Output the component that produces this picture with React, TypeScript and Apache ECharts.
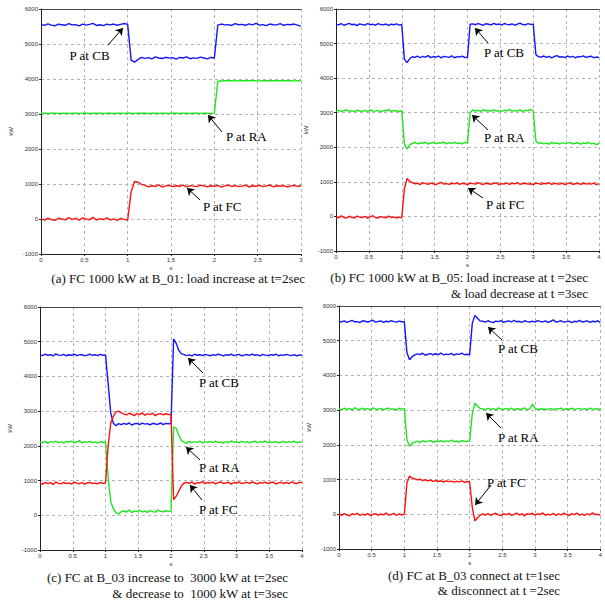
import React, { useEffect, useRef } from "react";
import * as echarts from "echarts";

// sampling step of every series (seconds)
const DT = 0.04;

// ---------- (a) FC 1000 kW at B_01 ----------
const A_CB = [5560,5530,5575,5540,5520,5565,5550,5535,5580,5545,5555,5520,5570,5540,5560,5590,5530,5550,5525,5565,5545,5570,5535,5560,5585,
  5560,4540,4480,4560,
  4620,4590,4610,4575,4630,4600,4585,4620,4595,4610,4570,4615,4600,4630,4580,4605,4590,4625,4600,4575,4615,
  4600,
  5540,5570,5545,5555,5530,5580,5550,5560,5535,5575,5545,5590,5540,5555,5525,5570,5550,5545,5580,5535,5560,5550,5570,5540,5510];
const A_RA = [3020,3022,3018,3020,3021,3019,3020,3023,3018,3020,3021,3019,3020,3022,3018,3020,3021,3020,3019,3022,
  3020,3018,3021,3020,3019,3023,3020,3018,3021,3020,3022,3019,3020,3021,3018,3020,3022,3019,3020,3021,
  3018,3020,3022,3019,3021,3020,3018,3022,3020,3019,3025,
  3930,3950,3948,3952,3950,3946,3953,3950,3949,3951,3955,3950,3947,3952,3950,3948,3951,3954,3950,3949,3952,3950,3947,3951,3950];
const A_FC = [10,-30,25,-15,-40,20,5,-25,40,-10,15,-35,30,-5,-20,45,-30,10,-15,35,-25,5,-40,20,-10,-30,
  780,1070,1050,990,
  960,920,950,930,975,910,945,960,925,950,935,970,915,955,940,925,965,945,920,950,935,960,910,945,970,930,955,925,940,965,915,950,935,960,925,945,970,920,950,935,955,915,945,960,930,950];

// ---------- (b) FC 1000 kW at B_05 ----------
const B_CB = [5560,5540,5575,5530,5555,5585,5545,5560,5520,5570,5550,5535,5580,5545,5560,5530,5575,5550,5540,5565,5525,5560,5545,5570,5535,5550,
  4550,4450,4560,
  4620,4600,4640,4590,4630,4610,4650,4595,4625,4605,4640,4585,4630,4615,4600,4645,4590,4620,4610,4635,4595,4600,
  5560,
  5570,5545,5580,5555,5530,5575,5560,5540,5585,5550,5565,5535,5580,5555,5545,5570,5530,5560,5590,5550,5540,5575,5555,5560,
  4680,4620,
  4610,4640,4600,4630,4585,4625,4650,4605,4620,4595,4640,4610,4630,4590,4625,4615,4645,4600,4620,4635,4590,4610,4600];
const B_RA = [3040,3070,3030,3060,3085,3045,3055,3030,3075,3050,3040,3065,3035,3080,3050,3045,3070,3025,3060,3055,3090,3040,3065,3050,3035,3060,
  2100,1950,2070,
  2110,2140,2100,2130,2115,2150,2095,2125,2140,2105,2130,2120,2150,2100,2135,2115,2145,2110,2130,2100,2140,2120,
  3000,
  3080,3050,3070,3040,3090,3055,3065,3045,3080,3050,3060,3035,3075,3055,3100,3045,3065,3050,3085,3040,3070,3060,3095,3050,
  2180,2120,
  2130,2100,2120,2090,2140,2110,2125,2095,2135,2105,2120,2140,2100,2115,2130,2090,2125,2110,2140,2100,2120,2080,2110];
const B_FC = [-10,-40,15,-30,-50,5,-25,-45,10,-20,-35,0,-50,-15,20,-30,-45,-5,-25,-40,10,-30,-15,-50,-20,-40,
  800,1100,1020,
  980,940,960,920,975,950,930,965,945,920,955,985,935,950,925,960,940,970,930,955,
  945,920,965,950,935,975,940,925,960,945,930,955,970,920,950,940,965,930,955,945,
  975,925,950,960,935,945,920,965,950,930,960,940,975,925,955,945,935,960,920,950,
  970,930,945,955,925,960,940,950,935,965,920,945];

// ---------- (c) FC at B_03 increase / decrease ----------
const C_CB = [4620,4600,4640,4610,4630,4590,4650,4615,4605,4635,4595,4625,4610,4645,4600,4620,4630,4590,4615,4640,4605,4625,4600,4635,4610,4620,
  3800,2950,2650,2580,
  2640,2610,2650,2620,2660,2600,2635,2645,2615,2655,2625,2640,2605,2650,2630,2620,2660,2610,2645,2635,2640,
  5080,4950,4750,4650,
  4630,4600,4620,4590,4640,4610,4625,4600,4635,4615,4595,4630,4605,4640,4620,4590,4625,4610,4645,4600,
  4620,4635,4595,4615,4630,4605,4640,4610,4620,4590,4635,4615,4600,4630,4610,4645,4595,4620,4605,4635,
  4615,4600,4630,4590,4620,4610];
const C_RA = [2110,2090,2130,2080,2120,2100,2140,2095,2115,2085,2125,2105,2135,2090,2110,2150,2085,2120,2100,2130,2095,2115,2080,2125,2105,2110,
  1100,400,180,80,40,
  100,130,90,150,80,120,110,140,95,125,85,135,105,90,150,115,100,130,110,120,
  2550,2500,2300,2150,
  2110,2080,2130,2095,2120,2100,2140,2085,2115,2105,2125,2090,2135,2100,2110,2080,2125,2095,2140,2105,
  2115,2090,2130,2100,2120,2085,2110,2135,2095,2120,2105,2140,2090,2115,2100,2125,2085,2110,2130,2095,
  2120,2100,2135,2090,2115,2105];
const C_FC = [930,900,950,910,940,890,960,920,905,945,915,935,895,955,925,910,940,900,930,950,915,925,905,945,920,930,
  2000,2650,2850,2980,
  3000,2950,2920,2890,2940,2910,2870,2930,2900,2950,2880,2920,2905,2940,2870,2915,2930,2890,2925,2900,2910,
  450,550,700,850,930,
  950,920,960,900,940,930,970,910,945,925,955,905,940,960,915,935,950,900,945,925,
  960,910,935,950,920,965,930,905,945,925,955,915,940,960,900,935,950,920,945,910,
  960,930,915,950,935];

// ---------- (d) FC at B_03 connect / disconnect ----------
const D_CB = [5560,5540,5570,5530,5555,5585,5545,5550,5520,5575,5560,5540,5565,5590,5535,5555,5570,5530,5560,5545,5580,5550,5535,5565,5545,5550,
  4650,4450,4540,
  4590,4620,4600,4640,4580,4610,4630,4595,4625,4600,4645,4590,4615,4600,4635,4585,4620,4605,4640,4595,4610,4600,
  5500,5730,5650,5570,
  5560,5535,5575,5545,5520,5565,5550,5580,5530,5555,5570,5540,5590,5545,5560,5525,5575,5550,5540,5565,
  5535,5580,5555,5545,5570,5530,5560,5600,5540,5555,5575,5535,5550,5565,5520,5560,5545,5585,5540,5555,
  5570,5530,5560,5545,5575,5520];
const D_RA = [3040,3010,3060,3020,3050,3000,3070,3030,3015,3055,3025,3045,3005,3065,3035,3020,3050,3010,3040,3060,3025,3035,3000,3055,3030,3040,
  2150,1960,2050,
  2080,2110,2060,2120,2090,2100,2130,2070,2105,2095,2125,2085,2115,2100,2140,2090,2110,2080,2120,2105,2095,2110,
  2900,3200,3120,3050,
  3040,3010,3055,3020,3045,3000,3065,3030,3015,3050,3025,3060,3005,3040,3035,3020,3070,3010,3045,3170,
  3055,3015,3040,3025,3030,3020,3050,3010,3045,3035,3060,3005,3040,3025,3055,3015,3035,3050,3020,3045,
  3010,3060,3030,3025,3050,3000];
const D_FC = [10,-30,20,-20,-45,15,-10,30,-35,5,-25,25,-40,0,20,-30,10,-15,35,-20,-5,25,-35,10,-20,0,
  900,1100,1040,
  1020,990,1010,970,995,960,985,950,975,945,965,930,960,940,955,925,950,935,960,920,945,930,
  200,-190,-100,-30,
  10,-25,20,-35,5,30,-15,-40,15,-10,25,-30,0,35,-20,10,-45,20,-5,30,
  -25,15,-10,40,-30,5,-20,25,-35,10,-15,30,-5,-40,20,-10,35,-25,5,-30,
  15,-20,45,-10,0,-25];

// annotation anchors in data units: text (left, middle) and arrow tail -> head
const A_NOTES = [
  { label: "P at CB", tx: 0.33, ty: 4660, x1: 0.773, y1: 4971, x2: 0.946, y2: 5457 },
  { label: "P at RA", tx: 2.135, ty: 2343, x1: 2.088, y1: 2486, x2: 1.927, y2: 2971 },
  { label: "P at FC", tx: 1.869, ty: 371, x1: 1.835, y1: 543, x2: 1.685, y2: 886 },
];
const B_NOTES = [
  { label: "P at CB", tx: 2.251, ty: 4756, x1: 2.312, y1: 5017, x2: 2.114, y2: 5450 },
  { label: "P at RA", tx: 2.251, ty: 2297, x1: 2.312, y1: 2500, x2: 2.068, y2: 2934 },
  { label: "P at FC", tx: 2.281, ty: 359, x1: 2.236, y1: 533, x2: 2.008, y2: 822 },
];
const C_NOTES = [
  { label: "P at CB", tx: 2.427, ty: 3839, x1: 2.489, y1: 4099, x2: 2.26, y2: 4531 },
  { label: "P at RA", tx: 2.427, ty: 1390, x1: 2.443, y1: 1592, x2: 2.229, y2: 1967 },
  { label: "P at FC", tx: 2.427, ty: 180, x1: 2.473, y1: 440, x2: 2.29, y2: 872 },
];
const D_NOTES = [
  { label: "P at CB", tx: 2.433, ty: 4790, x1: 2.494, y1: 5020, x2: 2.281, y2: 5395 },
  { label: "P at RA", tx: 2.433, ty: 2226, x1: 2.479, y1: 2485, x2: 2.251, y2: 2917 },
  { label: "P at FC", tx: 2.266, ty: 929, x1: 2.327, y1: 843, x2: 2.084, y2: 266 },
];

const CAPTIONS = [
  { lines: ["(a) FC 1000 kW at B_01: load increase at t=2sec"], x: 305, y: [278] },
  { lines: ["(b) FC 1000 kW at B_05: load increase at t =2sec", "& load decrease at t =3sec"], x: 588, y: [277, 293] },
  { lines: ["(c) FC at B_03 increase to  3000 kW at t=2sec", "& decrease to  1000 kW at t=3sec"], x: 288, y: [577, 593] },
  { lines: ["(d) FC at B_03 connect at t=1sec", "& disconnect at t =2sec"], x: 560, y: [575, 590] },
];

const PANELS = [
  { grid: { left: 41, top: 9, width: 260, height: 245 }, xMax: 3, cb: A_CB, ra: A_RA, fc: A_FC, notes: A_NOTES },
  { grid: { left: 336, top: 9, width: 263, height: 242 }, xMax: 4, cb: B_CB, ra: B_RA, fc: B_FC, notes: B_NOTES },
  { grid: { left: 40, top: 307, width: 262, height: 243 }, xMax: 4, cb: C_CB, ra: C_RA, fc: C_FC, notes: C_NOTES },
  { grid: { left: 339, top: 306, width: 263, height: 243 }, xMax: 4, cb: D_CB, ra: D_RA, fc: D_FC, notes: D_NOTES },
];

const COLORS = { cb: "#1414ff", ra: "#1ee61e", fc: "#ff1010" };
const SERIF = '"Liberation Serif", "Times New Roman", serif';
const SANS = '"Liberation Sans", Arial, sans-serif';

const toPairs = (vals: number[]) => vals.map((v, i) => [+(i * DT).toFixed(3), v]);

export default function App() {
  const ref = useRef<HTMLDivElement>(null);
  useEffect(() => {
    const chart = echarts.init(ref.current!, null, { renderer: "svg" });
    const grids: any[] = [];
    const xAxes: any[] = [];
    const yAxes: any[] = [];
    const series: any[] = [];
    const split = { show: true, lineStyle: { color: "#b4b4b4", type: [3, 3], width: 1 } };
    const label = { fontSize: 6, color: "#333", margin: 3, fontFamily: SANS, formatter: (v: number) => String(v) };
    PANELS.forEach((p, i) => {
      grids.push({ ...p.grid });
      xAxes.push({
        gridIndex: i, type: "value", min: 0, max: p.xMax, interval: 0.5,
        name: "s", nameLocation: "middle", nameGap: 11,
        nameTextStyle: { fontSize: 6, color: "#333", fontFamily: SANS },
        axisLine: { show: true, onZero: false, lineStyle: { color: "#222", width: 1 } },
        axisTick: { show: true, length: 2, lineStyle: { color: "#222" } },
        axisLabel: label, splitLine: split,
      });
      yAxes.push({
        gridIndex: i, type: "value", min: -1000, max: 6000, interval: 1000,
        name: "kW", nameLocation: "middle", nameGap: 27,
        nameTextStyle: { fontSize: 6, color: "#333", fontFamily: SANS },
        axisLine: { show: true, onZero: false, lineStyle: { color: "#222", width: 1 } },
        axisTick: { show: true, length: 2, lineStyle: { color: "#222" } },
        axisLabel: label, splitLine: split,
      });
      const keys: ("cb" | "ra" | "fc")[] = ["cb", "ra", "fc"];
      keys.forEach((k, j) => {
        const s: any = {
          type: "line", xAxisIndex: i, yAxisIndex: i, data: toPairs(p[k]),
          showSymbol: false, symbol: "none",
          lineStyle: { color: COLORS[k], width: 1.4 },
          itemStyle: { color: COLORS[k] },
        };
        if (j === 0) {
          s.markLine = {
            silent: true, symbol: ["none", "arrow"], symbolSize: 7,
            lineStyle: { color: "#000", width: 1, type: "solid" },
            label: { show: false },
            data: p.notes.map((n) => [{ coord: [n.x1, n.y1] }, { coord: [n.x2, n.y2] }]),
          };
        }
        series.push(s);
      });
    });
    PANELS.forEach((p, i) => {
      xAxes.push({
        gridIndex: i, type: "value", position: "top", min: 0, max: p.xMax, interval: 0.5, z: 5,
        axisLine: { show: true, onZero: false, lineStyle: { color: "#444", width: 1 } },
        axisTick: { show: false }, axisLabel: { show: false }, splitLine: { show: false },
      });
    });
    chart.setOption({
      animation: false,
      backgroundColor: "#fff",
      grid: grids, xAxis: xAxes, yAxis: yAxes, series,
    });

    const graphic: any[] = [];
    PANELS.forEach((p, i) => {
      p.notes.forEach((n) => {
        const pt = chart.convertToPixel({ seriesIndex: i * 3 }, [n.tx, n.ty]) as number[];
        graphic.push({
          type: "text", x: pt[0], y: pt[1],
          style: { text: n.label, fill: "#000", fontSize: 13, fontFamily: SERIF, textAlign: "left", textVerticalAlign: "middle" },
        });
      });
    });
    CAPTIONS.forEach((c) => {
      c.lines.forEach((t, k) => {
        graphic.push({
          type: "text", x: c.x, y: c.y[k],
          style: { text: t, fill: "#111", fontSize: 13, fontFamily: SERIF, textAlign: "right", textVerticalAlign: "middle" },
        });
      });
    });
    chart.setOption({ graphic });
    return () => chart.dispose();
  }, []);
  return (
    <div
      ref={ref}
      style={{ position: "absolute", left: 0, top: 0, width: 605, height: 600, background: "#fff" }}
    />
  );
}
